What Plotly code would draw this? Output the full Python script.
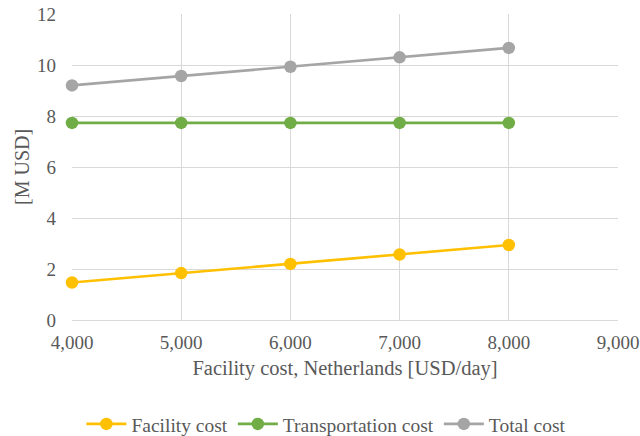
import plotly.graph_objects as go

# Daily facility cost in the Netherlands (USD/day)
facility_day_cost = [4000, 5000, 6000, 7000, 8000]

# Annual costs in million USD
facility_cost = [1.47, 1.84, 2.20, 2.57, 2.94]
transportation_cost = [7.73, 7.73, 7.73, 7.73, 7.73]
total_cost = [9.20, 9.57, 9.93, 10.30, 10.67]

series = [
    ("Facility cost", facility_cost, "#FFC000"),
    ("Transportation cost", transportation_cost, "#70AD47"),
    ("Total cost", total_cost, "#A5A5A5"),
]

font_family = "Liberation Serif"
text_color = "#595959"
grid_color = "#D9D9D9"

fig = go.Figure()
for name, values, color in series:
    fig.add_trace(go.Scatter(
        x=facility_day_cost,
        y=values,
        name=name,
        mode="lines+markers",
        line=dict(color=color, width=2.6),
        marker=dict(color=color, size=12.5),
        cliponaxis=False,
    ))

fig.update_layout(
    width=640,
    height=436,
    margin=dict(l=72, r=22, t=14, b=116),
    paper_bgcolor="white",
    plot_bgcolor="white",
    font=dict(family=font_family, size=19, color=text_color),
    showlegend=True,
    legend=dict(
        orientation="h",
        x=0.51, xanchor="center", xref="container",
        y=0.027, yanchor="middle", yref="container",
        font=dict(family=font_family, size=19.5, color=text_color),
        itemwidth=40,
        tracegroupgap=0,
    ),
    # vertical axis title placed explicitly left of the tick labels
    annotations=[dict(
        text="[M USD]",
        xref="paper", yref="paper",
        x=0, y=0.5,
        xshift=-50,
        xanchor="center", yanchor="middle",
        textangle=-90,
        showarrow=False,
        font=dict(family=font_family, size=20, color=text_color),
    )],
)

fig.update_xaxes(
    range=[4000, 9000],
    tickvals=[4000, 5000, 6000, 7000, 8000, 9000],
    ticktext=["4,000", "5,000", "6,000", "7,000", "8,000", "9,000"],
    automargin=False,
    showgrid=True,
    gridcolor=grid_color,
    gridwidth=1,
    showline=True,
    linecolor=grid_color,
    linewidth=1,
    zeroline=False,
    ticks="",
    ticklabelstandoff=5,
    tickfont=dict(family=font_family, size=19, color=text_color),
    title=dict(text="Facility cost, Netherlands [USD/day]",
               font=dict(family=font_family, size=20.5, color=text_color), standoff=8),
)

fig.update_yaxes(
    range=[0, 12],
    tickvals=[0, 2, 4, 6, 8, 10, 12],
    automargin=False,
    showgrid=True,
    gridcolor=grid_color,
    gridwidth=1,
    showline=False,
    zeroline=False,
    ticks="",
    ticklabelstandoff=15,
    tickfont=dict(family=font_family, size=19, color=text_color),
)

fig.write_html("out.html")
